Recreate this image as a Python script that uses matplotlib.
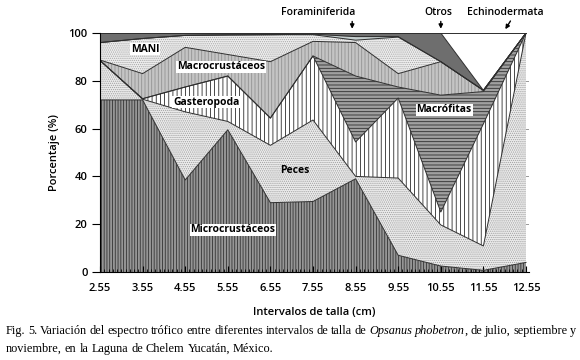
import numpy as np
import matplotlib.pyplot as plt

plt.rcParams['hatch.linewidth'] = 0.6
sans = ['Open Sans', 'DejaVu Sans']

tallas = ['2.55', '3.55', '4.55', '5.55', '6.55', '7.55', '8.55', '9.55', '10.55', '11.55', '12.55']
x = np.array([2.55, 3.55, 4.55, 5.55, 6.55, 7.55, 8.55, 9.55, 10.55, 11.55, 12.55])

# porcentajes por grupo (de abajo hacia arriba)
microcrustaceos = [72, 72, 38.5, 59.5, 29, 29.5, 39, 7, 2.5, 0.7, 4]
peces = [16.5, 0.3, 28.5, 3.5, 24, 34.1, 1, 32.3, 17.2, 10.2, 96]
gasteropoda = [0, 0.2, 10.4, 19, 11.4, 26.8, 14.4, 33.5, 5.4, 51.1, 0]
macrofitas = [0, 0, 0, 0, 0, 0, 27.6, 4.6, 48.9, 13.5, 0]
macrocrustaceos = [0.2, 10.5, 16.6, 9, 23.6, 6.1, 14, 5.6, 14, 0.5, 0]
mani = [7.3, 14.7, 5, 8.2, 11.3, 2.8, 1, 15.3, 0, 0, 0]
foraminiferida = [0, 0, 0, 0, 0, 0.2, 1.5, 0.2, 0, 0, 0]
otros = [4, 2.3, 1, 0.8, 0.7, 0.5, 1.5, 1.5, 12, 0, 0]
echinodermata = [0, 0, 0, 0, 0, 0, 0, 0, 0, 24, 0]

capas = [microcrustaceos, peces, gasteropoda, macrofitas, macrocrustaceos,
         mani, foraminiferida, otros, echinodermata]
# (fondo, color de trama, trama)
estilos = [('#969696', '#333333', '||||||'),
           ('#ececec', '#a0a0a0', '........'),
           ('#ffffff', '#2a2a2a', '||||'),
           ('#a0a0a0', '#2e2e2e', '-----'),
           ('#c4c4c4', '#929292', '|||||'),
           ('#eeeeee', '#a8a8a8', '........'),
           ('#c6d0d0', '#c6d0d0', None),
           ('#6e6e6e', '#6e6e6e', None),
           ('#ffffff', '#ffffff', None)]

fig = plt.figure(figsize=(5.8, 3.6), dpi=100)
ax = fig.add_axes([100/580, 88/360, 429.4/580, 239/360])

for yv in [20, 40, 60, 80]:
    ax.axhline(yv, color='#888888', lw=0.6, zorder=0)

acum = np.cumsum(np.array(capas, dtype=float), axis=0)
base = np.zeros(len(x))
for top, (fc, hc, h) in zip(acum, estilos):
    ax.fill_between(x, base, top, facecolor=fc, edgecolor=hc, hatch=h, linewidth=0, zorder=1)
    base = top
for top in acum:
    ax.plot(x, top, color='#2e2e2e', lw=0.7, zorder=2)

ax.set_xlim(2.55, 12.63)
ax.set_ylim(0, 100)
ax.set_xticks(x)
ax.set_xticklabels(tallas)
ax.set_xticks(np.arange(2.55, 12.56, 0.1), minor=True)
ax.tick_params(axis='x', which='major', direction='in', length=4, pad=8)
ax.tick_params(axis='x', which='minor', direction='in', length=2)
ax.set_yticks([0, 20, 40, 60, 80, 100])
ax.tick_params(axis='y', direction='out', length=6, pad=3)
for lab in ax.get_xticklabels() + ax.get_yticklabels():
    lab.set_family(sans)
    lab.set_fontsize(8)
    lab.set_fontweight('semibold')
for s in ['top', 'right']:
    ax.spines[s].set_visible(False)
ax.spines['left'].set_linewidth(0.8)
ax.spines['bottom'].set_linewidth(0.8)

ax.set_xlabel('Intervalos de talla (cm)', family=sans, fontsize=8, fontweight='semibold', labelpad=9)
ax.set_ylabel('Porcentaje (%)', family=sans, fontsize=8, fontweight='semibold', labelpad=6)

caja = dict(facecolor='white', edgecolor='none', pad=0.6)
etiquetas = [('MANI', 3.61, 93.3, True), ('Macrocrustáceos', 5.39, 85.8, True),
             ('Gasteropoda', 5.04, 71.1, True), ('Macrófitas', 10.63, 67.8, True),
             ('Peces', 7.13, 42.3, False), ('Microcrustáceos', 5.67, 17.6, True)]
for txt, xt, yt, con_caja in etiquetas:
    ax.text(xt, yt, txt, family=sans, fontsize=7.5, fontweight='bold', ha='center', va='center',
            bbox=caja if con_caja else None, zorder=5)

# grupos sobre el grafico con flechas
arriba = [('Foraminiferida', 7.68, 8.47, 8.47), ('Otros', 10.50, 10.55, 10.55),
          ('Echinodermata', 12.06, 12.22, 12.03)]
for txt, xt, xa, xb in arriba:
    ax.text(xt, 108.4, txt, family=sans, fontsize=7.5, fontweight='semibold', ha='center', va='center')
    ax.annotate('', xy=(xb, 100.6), xytext=(xa, 106), annotation_clip=False,
                arrowprops=dict(arrowstyle='-|>', color='black', lw=1, mutation_scale=6))

# pie de figura justificado
renderer = fig.canvas.get_renderer()
linea1 = [(w, 'normal') for w in 'Fig. 5. Variación del espectro trófico entre diferentes intervalos de talla de'.split()]
linea1 += [('Opsanus', 'italic'), ('phobetron', 'italic'), (',', 'normal')]
linea1 += [(w, 'normal') for w in 'de julio, septiembre y'.split()]
linea2 = [(w, 'normal') for w in 'noviembre, en la Laguna de Chelem Yucatán, México.'.split()]


def escribir(palabras, ypix, justificar):
    objs, anchos = [], []
    for w, st in palabras:
        t = fig.text(0, 1 - ypix/360, w, fontsize=8.8, family='Liberation Serif', style=st, va='center')
        objs.append(t)
        anchos.append(t.get_window_extent(renderer).width)
    if justificar:
        esp = (570 - sum(anchos)) / (len(anchos) - 2)
    else:
        esp = 3.0
    xp = 6
    for i, (t, a) in enumerate(zip(objs, anchos)):
        if palabras[i][0] == ',':
            xp -= esp
        t.set_x(xp/580)
        xp += a + esp


escribir(linea1, 331, True)
escribir(linea2, 349, False)

fig.savefig('out.png', dpi=100)
